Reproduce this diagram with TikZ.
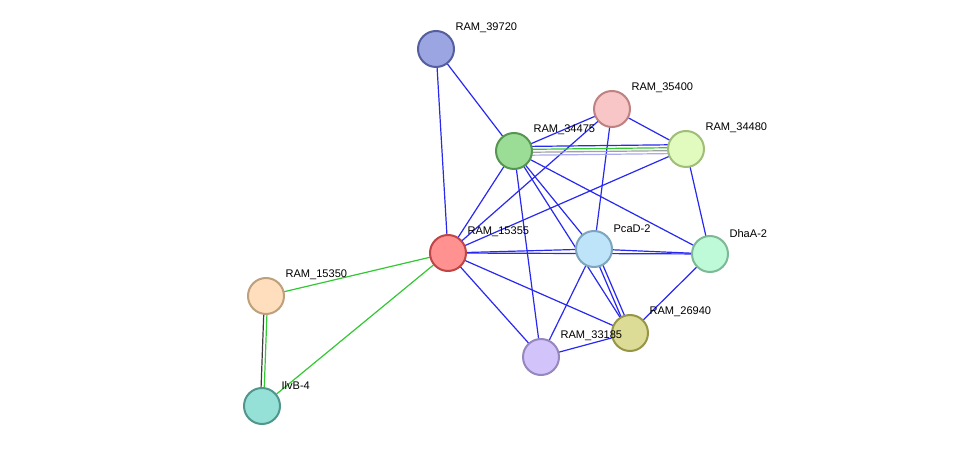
\documentclass[tikz,border=0pt]{standalone}
\usepackage{fontspec}
\setmainfont{Liberation Sans}
\begin{document}
\begin{tikzpicture}[x=0.75pt,y=-0.75pt,
  nd/.style={circle,draw,line width=1.5pt,minimum size=27pt,inner sep=0pt},
  lb/.style={font=\fontsize{8.3pt}{9pt}\selectfont,anchor=south west,inner sep=1pt},
  e/.style={draw={rgb,255:red,40;green,40;blue,240},line width=0.9pt},
  g/.style={draw={rgb,255:red,50;green,200;blue,50},line width=0.9pt}]
\useasboundingbox (0,0) rectangle (976,452);
\coordinate (p39720) at (436,49);
\coordinate (p35400) at (612,109);
\coordinate (p34475) at (514,151);
\coordinate (p34480) at (686,149);
\coordinate (p15355) at (448,253);
\coordinate (pPcaD) at (594,249);
\coordinate (pDhaA) at (710,254);
\coordinate (p15350) at (266,296);
\coordinate (p26940) at (630,333);
\coordinate (p33185) at (541,357);
\coordinate (pIlvB) at (262,406);
% edges
\draw[e] (p39720)--(p15355);
\draw[e] (p39720)--(p34475);
\draw[e] (p35400)--(p34480);
\draw[e] (p35400)--(p34475);
\draw[e] (p35400)--(p15355);
\draw[e] (p35400)--(pPcaD);
\draw[draw={rgb,255:red,170;green,170;blue,240},line width=0.9pt] ([yshift=-3.3]p34475)--([yshift=-3.3]p34480);
\draw[draw={rgb,255:red,160;green,160;blue,160},line width=0.9pt] ([yshift=-1.1]p34475)--([yshift=-1.1]p34480);
\draw[g] ([yshift=1.1]p34475)--([yshift=1.1]p34480);
\draw[e] ([yshift=3.3]p34475)--([yshift=3.3]p34480);
\draw[e] (p34475)--(p15355);
\draw[e] (p34475)--(pPcaD);
\draw[e] (p34475)--(pDhaA);
\draw[e] (p34475)--(p33185);
\draw[e] (p34475)--(p26940);
\draw[e] (p34480)--(p15355);
\draw[e] (p34480)--(pDhaA);
\draw[e] (p15355)--(pPcaD);
\draw[e] (p15355)--(pDhaA);
\draw[e] (p15355)--(p26940);
\draw[e] (p15355)--(p33185);
\draw[g] (p15355)--(p15350);
\draw[g] (p15355)--(pIlvB);
\draw[e] (pPcaD)--(pDhaA);
\draw[e] (pPcaD)--(p33185);
\draw[e] ([xshift=-1.5]pPcaD)--([xshift=-1.5]p26940);
\draw[e] ([xshift=1.5]pPcaD)--([xshift=1.5]p26940);
\draw[e] (pDhaA)--(p26940);
\draw[e] (p26940)--(p33185);
\draw[draw={rgb,255:red,60;green,60;blue,60},line width=0.9pt] ([xshift=-1.2]p15350)--([xshift=-1.2]pIlvB);
\draw[g] ([xshift=1.2]p15350)--([xshift=1.2]pIlvB);
% nodes
\node[nd,fill={rgb,255:red,155;green,165;blue,225},draw={rgb,255:red,85;green,95;blue,160}] (n39720) at (p39720) {};
\node[nd,fill={rgb,255:red,248;green,198;blue,198},draw={rgb,255:red,190;green,130;blue,130}] (n35400) at (p35400) {};
\node[nd,fill={rgb,255:red,155;green,220;blue,150},draw={rgb,255:red,85;green,150;blue,80}] (n34475) at (p34475) {};
\node[nd,fill={rgb,255:red,225;green,250;blue,190},draw={rgb,255:red,160;green,190;blue,120}] (n34480) at (p34480) {};
\node[nd,fill={rgb,255:red,255;green,145;blue,145},draw={rgb,255:red,190;green,70;blue,70}] (n15355) at (p15355) {};
\node[nd,fill={rgb,255:red,190;green,228;blue,250},draw={rgb,255:red,125;green,165;blue,190}] (nPcaD) at (pPcaD) {};
\node[nd,fill={rgb,255:red,190;green,250;blue,215},draw={rgb,255:red,125;green,185;blue,150}] (nDhaA) at (pDhaA) {};
\node[nd,fill={rgb,255:red,255;green,222;blue,190},draw={rgb,255:red,190;green,160;blue,125}] (n15350) at (p15350) {};
\node[nd,fill={rgb,255:red,220;green,220;blue,150},draw={rgb,255:red,150;green,150;blue,70}] (n26940) at (p26940) {};
\node[nd,fill={rgb,255:red,210;green,195;blue,250},draw={rgb,255:red,150;green,135;blue,190}] (n33185) at (p33185) {};
\node[nd,fill={rgb,255:red,150;green,225;blue,215},draw={rgb,255:red,80;green,150;blue,140}] (nIlvB) at (pIlvB) {};
% labels
\node[lb] (l39720) at (454,34) {RAM\_39720};
\node[lb] (l35400) at (630,94) {RAM\_35400};
\node[lb] (l34475) at (532,136) {RAM\_34475};
\node[lb] (l34480) at (704,134) {RAM\_34480};
\node[lb] (l15355) at (466,238) {RAM\_15355};
\node[lb] (lPcaD) at (612,234) {PcaD-2};
\node[lb] (lDhaA) at (728,239) {DhaA-2};
\node[lb] (l15350) at (284,281) {RAM\_15350};
\node[lb] (l26940) at (648,318) {RAM\_26940};
\node[lb] (l33185) at (559,342) {RAM\_33185};
\node[lb] (lIlvB) at (280,391) {IlvB-4};
\end{tikzpicture}
\end{document}
